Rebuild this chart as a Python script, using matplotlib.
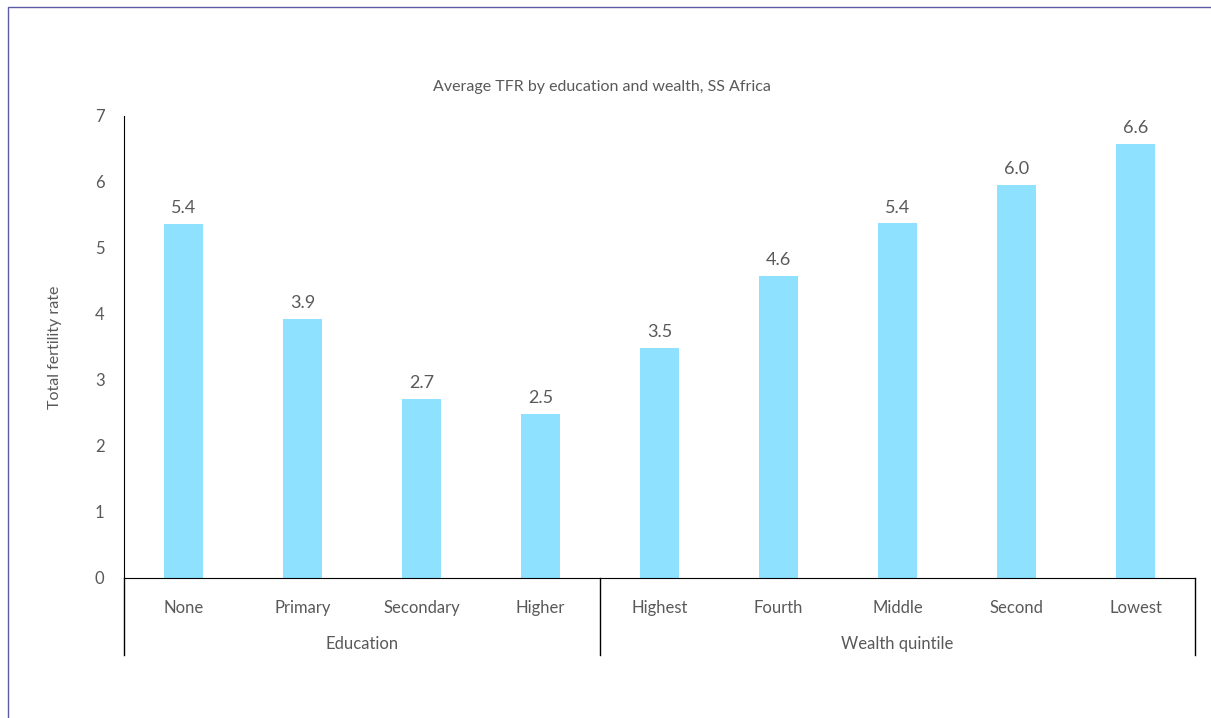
import matplotlib.pyplot as plt
from matplotlib.patches import Rectangle
import numpy as np

plt.rcParams['font.family'] = ['Lato', 'DejaVu Sans']

categories = ['None', 'Primary', 'Secondary', 'Higher',
              'Highest', 'Fourth', 'Middle', 'Second', 'Lowest']
values = [5.36, 3.93, 2.71, 2.48, 3.49, 4.57, 5.37, 5.96, 6.57]
groups = ['Education', 'Wealth quintile']
group_sizes = [4, 5]

grey = '#595959'
bar_color = '#8EE1FF'

fig = plt.figure(figsize=(12.11, 7.18), dpi=100)
ax = fig.add_axes([0.1024, 0.195, 0.8844, 0.6436])

x = np.arange(len(categories))
bars = ax.bar(x, values, width=0.32, color=bar_color, zorder=2)
for xi, v in zip(x, values):
    ax.text(xi, v + 0.12, '{:.1f}'.format(v), ha='center', va='bottom',
            fontsize=13, color=grey)

ax.set_xlim(-0.5, len(categories) - 0.5)
ax.set_ylim(0, 7)
ax.set_yticks(range(0, 8))
ax.tick_params(axis='y', length=0, labelsize=12, labelcolor=grey, pad=14)
ax.tick_params(axis='x', length=0, labelsize=12, labelcolor=grey, pad=16)
ax.set_xticks(x)
ax.set_xticklabels(categories)
for s in ['top', 'right']:
    ax.spines[s].set_visible(False)
ax.spines['left'].set_color('black')
ax.spines['bottom'].set_color('black')
ax.set_ylabel('Total fertility rate', fontsize=11.5, color=grey, labelpad=24)

# group separators and labels below the axis
tr = ax.get_xaxis_transform()
depth = -0.167
start = -0.5
ax.plot([start, start], [0, depth], transform=tr, color='black', lw=1, clip_on=False)
for name, n in zip(groups, group_sizes):
    end = start + n
    ax.plot([end, end], [0, depth], transform=tr, color='black', lw=1, clip_on=False)
    ax.text((start + end) / 2, -0.142, name, transform=tr, ha='center',
            va='center', fontsize=12, color=grey)
    start = end

fig.text(0.497, 0.879, 'Average TFR by education and wealth, SS Africa',
         ha='center', va='center', fontsize=11.5, color=grey)

fig.patches.append(Rectangle((8 / 1211, -0.5), 2, 1.5 - 7 / 718,
                             transform=fig.transFigure, fill=False,
                             edgecolor='#5B5BA6', lw=1))

fig.savefig('out.png', dpi=100)
